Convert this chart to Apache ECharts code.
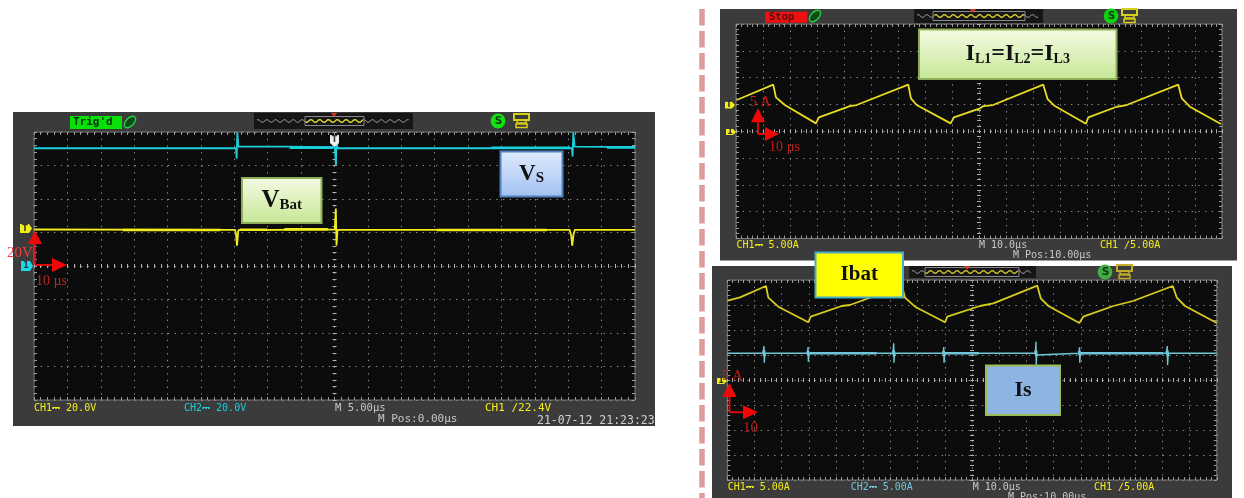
<!DOCTYPE html>
<html><head><meta charset="utf-8">
<style>html,body{margin:0;padding:0;background:#fff}#c{width:1244px;height:498px}</style>
<script src="https://cdn.jsdelivr.net/npm/echarts@6/dist/echarts.min.js"></script>
</head><body><div id="c"></div>
<script>
// Left scope: time in µs (5 µs/div), volts on screen (20 V/div)
const vsTrace=[[-45,70.3],[-36.9,70.3],[-36.8,71],[-36.7,70.3],[-29,70.3],[-28.9,70.9],[-28.8,70.3],[-14.75,70.3],[-14.65,64],[-14.55,79.8],[-14.4,71.3],[-7,71.3],[0.05,70.8],[0.22,60],[0.3,76],[0.45,70.3],[12,70.3],[12.1,71],[12.2,70.3],[23.5,70.3],[35.55,70.3],[35.65,65.4],[35.76,79.8],[35.95,71.3],[45,71]];
const vsThick=[[-6.7,70.7],[-0.2,70.7],['-','-'],[23.5,70.6],[35.3,70.6],['-','-'],[40.8,70.8],[45,70.8]];
const vBatTrace=[[-45,21.8],[-14.9,21.6],[-14.75,19],[-14.6,12.2],[-14.4,21.4],[-14.2,21.8],[0.05,21.8],[0.2,34.3],[0.3,12.2],[0.45,21.6],[35.2,21.6],[35.45,18],[35.6,12.2],[35.8,19],[36,21.6],[45,21.6]];
const vBatThick=[[-31.7,21.5],[-17.1,21.5],['-','-'],[-14.2,21.6],[-10.1,21.6],['-','-'],[-7.5,21.9],[-1,21.9],['-','-'],[15.3,21.5],[31.8,21.5]];
// Upper right scope: time in µs (10 µs/div), amps (5 A/div)
const iLTrace=[[0.26,5.82],[13.8,8.68],[14.8,6.32],[18.1,4.89],[29.6,1.47],[30.7,2.59],[42.2,4.7],[44.7,4.89],[63.8,8.68],[64.8,6.14],[66.9,4.89],[79.5,1.47],[80.7,2.59],[90.4,4.27],[91.6,4.7],[95.2,4.89],[113.8,8.68],[115.4,6],[118.1,4.7],[129.6,1.4],[130.5,2.59],[141,4.57],[144.7,4.89],[163.8,8.68],[165.1,6.14],[168.1,4.57],[179.6,1.34]];
// Lower right scope: time in µs (10 µs/div), amps (5 A/div)
const iBatTrace=[[0.15,15.86],[4.67,16.54],[14.23,18.8],[15.08,16.46],[18.76,14.66],[29.79,11.54],[30.67,12.66],[42.07,14.8],[45.1,15],[64.25,18.8],[65.36,16.46],[69.03,14.66],[80.07,11.54],[80.9,12.66],[92.93,14.8],[97.83,15.34],[114,18.86],[115.26,16.34],[118.06,14.8],[129.46,11.4],[130.9,12.66],[141.96,14.8],[149.2,15.8],[163.8,18.8],[165.3,16.46],[168.3,14.8],[180,11.4]];
const isTrace=[[0,5.34],[13.2,5.34],[13.3,5.9],[13.5,6.8],[13.6,3.46],[13.8,4.9],[14.1,5.34],[29.5,5.34],[29.7,6.6],[29.8,3.66],[30,4.9],[30.3,5.34],[60.9,5.34],[61.2,7.34],[61.3,3.46],[61.5,5.34],[79.4,5.34],[79.6,6.6],[79.7,3.46],[79.9,4.9],[80.2,5.34],[113.3,5.34],[113.5,7.66],[113.6,3],[113.8,5],[114.1,5.34],[129.3,5.34],[129.5,6.54],[129.6,3.46],[129.8,4.9],[130.1,5.34],[161.5,5.34],[161.8,6.8],[161.9,3],[162.1,4.8],[162.4,5.34],[180,5.34]];
const isThick=[[30.4,5.34],[54.9,5.34],['-','-'],[79.9,5.34],[92.5,5.34],['-','-'],[129.9,5.34],[160.2,5.34]];
const isBlobs=[[13.4,5.9],[13.7,4.8],['-','-'],[29.6,5.8],[29.9,4.9],['-','-'],[61.1,5.9],[61.4,4.8],['-','-'],[79.5,5.8],[79.8,4.8],['-','-'],[113.4,5.9],[113.7,4.8],['-','-'],[129.4,5.8],[129.7,4.9],['-','-'],[161.7,5.9],[162,4.8]];
// On-screen texts
const leftTexts=["CH1⎓ 20.0V","CH2⎓ 20.0V","M 5.00µs","M Pos:0.00µs","CH1 ∕22.4V","21-07-12 21:23:23"];
const upperTexts=["CH1⎓ 5.00A","M 10.0µs","M Pos:10.00µs","CH1 ∕5.00A"];
const lowerTexts=["CH1⎓ 5.00A","CH2⎓ 5.00A","M 10.0µs","M Pos:10.00µs","CH1 ∕5.00A"];

const YEL='#f3ec1c',CYN='#19cfdc',PALE='#6fc6d8';
const grids=[
 {left:34,top:132,width:601,height:268,x:[-45,45,5],y:[-80,80,20]},
 {left:736,top:24,width:486,height:214.5,x:[0,180,10],y:[-20,20,5]},
 {left:727.3,top:280,width:489.5,height:200,x:[0,180,10],y:[-20,20,5]}
];
const xAxis=[],yAxis=[];
grids.forEach((g,i)=>{
 const base={show:true,axisLabel:{show:false},axisLine:{show:false,onZero:false},splitLine:{show:false}};
 const mk=(r,pos,offset,grid,len,col)=>Object.assign({},base,{type:'value',gridIndex:i,min:r[0],max:r[1],interval:r[2],position:pos,offset,
   axisTick:{show:true,inside:true,length:len,lineStyle:{color:col,width:1}},
   minorTick:{show:true,splitNumber:5,length:len,lineStyle:{color:col,width:1}},
   splitLine:grid?{show:true,lineStyle:{color:'#8a8a8a',width:1,type:[1.4,5.3]}}:{show:false}});
 xAxis.push(mk(g.x,'bottom',0,true,3,'#9a9a9a'),mk(g.x,'top',0,false,3,'#9a9a9a'),mk(g.x,'bottom',-g.height/2+2,false,4,'#b0b0b0'));
 yAxis.push(mk(g.y,'left',0,true,3,'#9a9a9a'),mk(g.y,'right',0,false,3,'#9a9a9a'),mk(g.y,'left',-g.width/2+2,false,4,'#b0b0b0'));
});
const ser=(data,g,color,w,z)=>({type:'line',data,xAxisIndex:g*3,yAxisIndex:g*3,symbol:'none',silent:true,z:z||3,
  connectNulls:false,lineStyle:{color,width:w,cap:'butt'},animation:false});

const el=[];
const R=(x,y,w,h,fill,stroke,lw,z)=>el.push({type:'rect',z:z==null?10:z,shape:{x,y,width:w,height:h},style:{fill,stroke:stroke||null,lineWidth:lw||0}});
const T=(x,y,text,fill,font,extra)=>el.push({type:'text',z:12,x,y,style:Object.assign({text,fill,font,textAlign:'left',textVerticalAlign:'middle'},extra||{})});
const P=(pts,fill,z)=>el.push({type:'polygon',z:z==null?11:z,shape:{points:pts},style:{fill}});
const L=(x1,y1,x2,y2,stroke,lw,extra,z)=>el.push({type:'line',z:z==null?11:z,shape:{x1,y1,x2,y2},style:Object.assign({stroke,lineWidth:lw},extra||{})});
const grad=(a,b)=>({type:'linear',x:0,y:0,x2:0,y2:1,colorStops:[{offset:0,color:a},{offset:1,color:b}]});
const scopeFont='10px "DejaVu Sans Mono"';

// panels
R(13,112,642,314,'#3b3b3b',null,0,-5);
R(720,9,517,251.5,'#3b3b3b',null,0,-5);
R(712,266,520,232,'#3b3b3b',null,0,-5);
L(702,9,702,498,'#dd9c9c',5.5,{lineDash:[16.5,5.5]},-4);

function header(o){
 R(o.wx,o.wy,o.ww,o.wh,'#161616',null,0,1);
 const pts=[];const my=o.wy+o.wh/2;
 for(let x=o.wx+3,k=0;x<o.wx+o.ww-3;x+=2.2,k++)pts.push([x,my+(k%4<2?-1.2:1.2)]);
 el.push({type:'polyline',z:2,shape:{points:pts},style:{stroke:'#9a9a9a',lineWidth:1,fill:null}});
 const yp=pts.filter(p=>p[0]>=o.yx&&p[0]<=o.yx+o.yw);
 el.push({type:'polyline',z:3,shape:{points:yp},style:{stroke:o.yc,lineWidth:1.2,fill:null}});
 R(o.yx,my-4.5,o.yw,9,'none','#8a8a8a',1,3);
 P([[o.tx-3,o.wy],[o.tx+3,o.wy],[o.tx,o.wy+4]],'#e03020',4);
 el.push({type:'circle',z:5,shape:{cx:o.sx,cy:my,r:7.4},style:{fill:o.sc}});
 T(o.sx-3.2,my+0.5,'S','#0b3b0b','bold 10.5px "DejaVu Sans"');
 R(o.px-8,my-7,15,6,'none',o.pc,2,5);R(o.px-5,my-1,9,3,'none',o.pc,1.5,5);R(o.px-6,my+3,11,3.5,'none',o.pc,1.5,5);
}
header({wx:254,wy:113,ww:159,wh:16,yx:305,yw:59,yc:'#e4dc20',tx:334,sx:498,sc:'#10e010',px:522,pc:'#d8cf1c'});
header({wx:914,wy:9,ww:129,wh:14,yx:933,yw:92,yc:'#d8d020',tx:973,sx:1111,sc:'#10d010',px:1130,pc:'#d8cf1c'});
header({wx:909,wy:266,ww:127,wh:12,yx:925,yw:94,yc:'#c8c020',tx:967,sx:1105,sc:'#45ad45',px:1125,pc:'#c4ac28'});
R(70,116,52,13,'#08e008');T(73,122.5,"Trig'd",'#04300c','bold 11px "DejaVu Sans Mono"');
R(765.3,11.7,42,11,'#f01010');T(769,17.2,"Stop",'#501010','bold 10.5px "DejaVu Sans Mono"');
const bug=(cx,cy)=>el.push({type:'ellipse',z:5,x:cx,y:cy,rotation:0.8,shape:{cx:0,cy:0,rx:7,ry:4},style:{fill:'#0d4a18',stroke:'#25d040',lineWidth:1.4}});
bug(130,122);bug(815,16);

// bottom readouts
T(34,408.5,leftTexts[0],YEL,scopeFont);T(184,408.5,leftTexts[1],CYN,scopeFont);
T(335,408.5,leftTexts[2],'#c8c8c8','10.5px "DejaVu Sans Mono"');T(378,419.5,leftTexts[3],'#c8c8c8','11px "DejaVu Sans Mono"');
T(485,408.5,leftTexts[4],YEL,'11px "DejaVu Sans Mono"');T(537,421,leftTexts[5],'#d0d0d0','11.5px "DejaVu Sans Mono"');
T(736.5,245.7,upperTexts[0],YEL,scopeFont);T(979,245.7,upperTexts[1],'#c8c8c8',scopeFont);
T(1013,255,upperTexts[2],'#c8c8c8',scopeFont);T(1100,245.7,upperTexts[3],YEL,scopeFont);
T(727.7,487.7,lowerTexts[0],YEL,scopeFont);T(850.7,487.7,lowerTexts[1],PALE,scopeFont);
T(972.7,487.7,lowerTexts[2],'#c8c8c8',scopeFont);T(1008,497,lowerTexts[3],'#c8c8c8',scopeFont);
T(1094,487.7,lowerTexts[4],YEL,scopeFont);

function mark(x,y,w,h,fill,t){P([[x,y],[x+w-3,y],[x+w,y+h/2],[x+w-3,y+h],[x,y+h]],fill,6);
 el.push({type:'text',z:7,x:x+w/2-1,y:y+h/2,style:{text:t,fill:'#333',font:'bold 8px "DejaVu Sans"',textAlign:'center',textVerticalAlign:'middle'}});}
mark(20,224,12,9,YEL,'T');mark(21,261,12,10,'#19d8e8','1');
mark(725,101.7,10,6.8,YEL,'T');mark(726,129,10,6,YEL,'1');mark(717,378,10,6,YEL,'1');
el.push({type:'polygon',z:7,shape:{points:[[330,135],[339,135],[339,143],[334.5,147],[330,143]]},style:{fill:'#eee'}});
el.push({type:'text',z:8,x:334.5,y:139.5,style:{text:'T',fill:'#333',font:'bold 8px "DejaVu Sans"',textAlign:'center',textVerticalAlign:'middle'}});

const RED='#f00808';
function arrows(x,yTop,triH,halfW,yJoin,xEnd,triW){
 L(x,yTop+triH,x,yJoin,RED,1.8);L(x,yJoin,xEnd,yJoin,RED,1.8);
 P([[x-halfW,yTop+triH],[x+halfW,yTop+triH],[x,yTop]],RED);
 P([[xEnd,yJoin-halfW],[xEnd,yJoin+halfW],[xEnd+triW,yJoin]],RED);
}
arrows(35,231,13,7,265,52,15);
arrows(758,108.3,14,7,134,765,14);
arrows(729.5,383,14,7,412.3,743,15);
const serif='"Liberation Serif"';
T(7,253,'20V','#ee4040','15px '+serif);T(36,281.5,'10 µs','#b52a2a','14px '+serif);
T(750,102,'5 A','#d81818','14px '+serif);T(769,147,'10 µs','#c81818','14px '+serif);
T(722,376,'5 A','#c81818','14px '+serif);T(743,428,'10','#c81818','15px '+serif);

const green=grad('#f6fbe4','#c5e795'),blue=grad('#e0ebfd','#a2c0f2');
function box(x,y,w,h,fill,stroke,lw,rich,text){
 R(x,y,w,h,fill,stroke,lw,20);
 el.push({type:'text',z:21,x:x+w/2,y:y+h/2,style:{text,rich,textAlign:'center',textVerticalAlign:'middle',fill:'#111'}});
}
const big=s=>({font:'bold '+s+'px '+serif,fill:'#111',verticalAlign:'bottom'});
box(242,178,79.5,45,green,'#8fae58',2,{a:big(25),b:big(15)},'{a|V}{b|Bat}');
box(500.5,151.5,62,45,blue,'#4f81bd',2,{a:big(23),b:big(15)},'{a|V}{b|S}');
box(919,29.5,197.5,49.5,green,'#8fae58',2,{a:big(24),b:big(14)},'{a|I}{b|L1}{a|=I}{b|L2}{a|=I}{b|L3}');
box(815.5,252.5,87.5,45,'#ffff00','#4bacc6',2,{a:big(21)},'{a|Ibat}');
box(986,365.5,74,49.5,'#8eb4e3','#9bbb59',2,{a:big(22)},'{a|Is}');

const chart=echarts.init(document.getElementById('c'),null,{renderer:'canvas'});
chart.setOption({animation:false,backgroundColor:'#fff',
 grid:grids.map(g=>({show:true,left:g.left,top:g.top,width:g.width,height:g.height,backgroundColor:'#0c0c0c',borderColor:'#777',borderWidth:1})),
 xAxis,yAxis,
 series:[
  ser(vsTrace,0,CYN,1.8),ser(vsThick,0,CYN,2.6),
  ser(vBatTrace,0,YEL,1.8,4),ser(vBatThick,0,YEL,2.6,4),
  ser(iLTrace,1,'#e8dc20',1.8),
  ser(iBatTrace,2,'#d8cc20',1.8),
  ser(isTrace,2,PALE,1.4),ser(isThick,2,PALE,2.4),ser(isBlobs,2,PALE,3)
 ],
 graphic:{elements:el}
});
</script></body></html>
